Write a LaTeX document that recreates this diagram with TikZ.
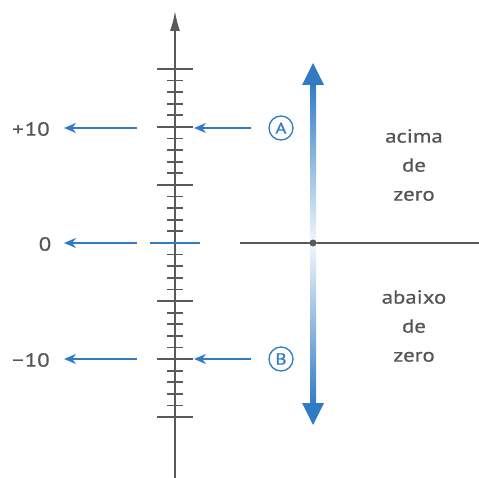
\documentclass[tikz,border=0pt]{standalone}
\usepackage{fontspec}
\setmainfont[FakeStretch=1.2,FakeBold=0.6]{PT Sans}
\usetikzlibrary{arrows.meta}
\definecolor{ax}{HTML}{5A5A5A}
\definecolor{bl}{HTML}{2F7CC4}
\definecolor{tx}{HTML}{555555}
\begin{document}
\begin{tikzpicture}[x=1pt,y=-1pt,
  axisline/.style={draw=ax,line width=1.8pt},
  tick/.style={draw=ax,line width=1.8pt},
  larrow/.style={draw=bl,line width=2.2pt,-{Stealth[length=12pt,width=10pt]}},
  lbl/.style={text=tx,font=\fontsize{19}{29}\selectfont,inner sep=0pt},
  circ/.style={circle,draw=bl,line width=1.3pt,text=bl,minimum size=24pt,inner sep=0pt,font=\fontsize{16}{16}\selectfont}
]
\useasboundingbox (0,0) rectangle (479,478);
% main axis
\coordinate (axbot) at (175,478);
\coordinate (axtop) at (175,11);
\draw[axisline,-{Latex[length=20pt,width=10pt]}] (axbot) -- (axtop);
% ticks
\foreach \i in {-15,...,15}{
  \pgfmathsetmacro{\yy}{243-\i*11.6}
  \pgfmathtruncatemacro{\m}{mod(abs(\i),5)}
  \ifnum\i=0
  \else
    \ifnum\m=0
      \draw[tick] (157,\yy) -- (193,\yy);
    \else
      \draw[tick] (167,\yy) -- (183,\yy);
    \fi
  \fi
}
\draw[draw=bl,line width=1.8pt] (150,243) -- (200,243);
% left labels
\node[lbl] (p10) at (31,129) {+\kern1pt10};
\node[lbl] (z0) at (45,244) {0};
\node[lbl] (m10) at (31,360) {−\kern1pt10};
\coordinate (s1) at (137,128);
\coordinate (s2) at (137,243);
\coordinate (s3) at (137,359);
\coordinate (e1) at (64,128);
\coordinate (e2) at (64,243);
\coordinate (e3) at (64,359);
\draw[larrow] (s1) -- (e1);
\draw[larrow] (s2) -- (e2);
\draw[larrow] (s3) -- (e3);
% A, B
\node[circ] (A) at (281,128) {A};
\node[circ] (B) at (281,359) {B};
\coordinate (ta) at (194,128);
\coordinate (tb) at (194,359);
\coordinate (fa) at (251,128);
\coordinate (fb) at (251,359);
\draw[larrow] (fa) -- (ta);
\draw[larrow] (fb) -- (tb);
% horizontal zero line
\coordinate (h1) at (240,243);
\coordinate (h2) at (479,243);
\draw[draw=ax,line width=1.6pt] (h1) -- (h2);
% vertical blue arrow
\shade[top color=bl,bottom color=bl!6] (310,82) rectangle (316,243);
\shade[top color=bl!6,bottom color=bl] (310,243) rectangle (316,406);
\fill[bl] (313,63) -- (324,85) -- (302,85) -- cycle;
\fill[bl] (313,425) -- (324,403) -- (302,403) -- cycle;
\node[circle,fill=ax,minimum size=7pt,inner sep=0pt] (dot) at (313,243) {};
% right texts
\node[lbl,align=center] (up) at (414,165) {acima\\de\\zero};
\node[lbl,align=center] (down) at (414,326) {abaixo\\de\\zero};
\end{tikzpicture}
\end{document}
